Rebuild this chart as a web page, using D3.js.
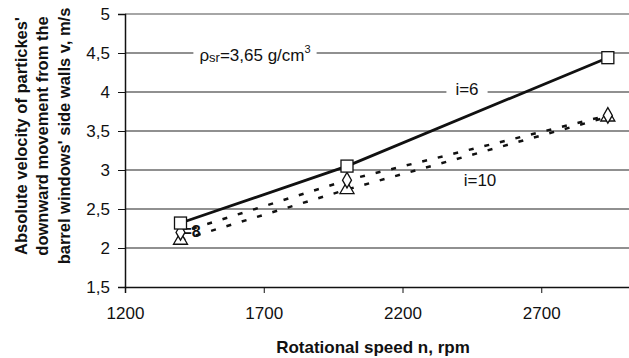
<!DOCTYPE html>
<html><head><meta charset="utf-8">
<script src="https://cdn.jsdelivr.net/npm/d3@7"></script>
<style>body{margin:0;background:#fff}svg{display:block}text{font-family:"Liberation Sans",Arial,sans-serif}</style>
</head><body><svg id="c" width="629" height="358"></svg>
<script>
const rpm = [1400, 2000, 2940];
const v_i6 = [2.32, 3.05, 4.44];
const v_i8 = [2.2, 2.87, 3.7];
const v_i10 = [2.1, 2.75, 3.68];
const xTicks = [1200, 1700, 2200, 2700];
const yTicks = [1.5, 2, 2.5, 3, 3.5, 4, 4.5, 5];
const yTickLabels = ["1,5","2","2,5","3","3,5","4","4,5","5"];
const seriesLabels = ["i=6", "i=8", "i=10"];
const densityLabel = "3,65 g/cm";
const xTitle = "Rotational speed n, rpm";
const yTitle = ["Absolute velocity of partickes'", "downward movement from the", "barrel windows' side walls v, m/s"];

const svg = d3.select("#c");
const x = d3.scaleLinear().domain([1200, 3200]).range([125, 680]);
const y = d3.scaleLinear().domain([1.5, 5]).range([287, 14]);
const FF = '"Liberation Sans",Arial,sans-serif';

// gridlines
svg.append("g").selectAll("line").data(yTicks.slice(1)).join("line")
  .attr("x1", 125).attr("x2", 629).attr("y1", d => y(d)).attr("y2", d => y(d))
  .attr("stroke", d => d === 5 ? "#888" : "#222").attr("stroke-width", d => d === 5 ? 1.5 : 1.2);

// axes
const yAxis = d3.axisLeft(y).tickValues(yTicks).tickFormat((d,i) => yTickLabels[i]).tickSize(7).tickPadding(8);
const gy = svg.append("g").attr("transform", "translate(125,0)").call(yAxis);
gy.select(".domain").attr("stroke", "#111").attr("stroke-width", 1.5);
gy.selectAll(".tick line").attr("stroke", "#111");
gy.selectAll("text").attr("font-size", 17).attr("fill", "#111").style("font-family", FF);

const xAxis = d3.axisBottom(x).tickValues(xTicks).tickFormat(d3.format("d")).tickSize(6).tickPadding(14);
const gx = svg.append("g").attr("transform", "translate(0,287)").call(xAxis);
gx.select(".domain").attr("stroke", "#111").attr("stroke-width", 1.5);
gx.selectAll(".tick line").attr("stroke", "#111");
gx.selectAll("text").attr("font-size", 17).attr("fill", "#111").style("font-family", FF);

// text labels with white background (break gridlines)
function boxLabel(cx, cy, build, padX) {
  const g = svg.append("g");
  const rect = g.append("rect").attr("fill", "#fff");
  const t = g.append("text").attr("x", cx).attr("y", cy).attr("text-anchor", "middle")
    .attr("dominant-baseline", "middle").attr("font-size", 17).attr("fill", "#111");
  build(t);
  const b = t.node().getBBox();
  rect.attr("x", b.x - padX).attr("y", b.y).attr("width", b.width + 2 * padX).attr("height", b.height);
}
boxLabel(255, 57, t => {
  t.append("tspan").text("ρ");
  t.append("tspan").attr("font-size", 13).attr("dy", 2).text("sr");
  t.append("tspan").attr("dy", -2).text("=" + densityLabel);
  t.append("tspan").attr("font-size", 11).attr("dy", -7).text("3");
}, 6);
boxLabel(467, 91, t => t.text(seriesLabels[0]), 9);
boxLabel(480, 182, t => t.text(seriesLabels[2]), 8);

// i=8 label near first points
svg.append("text").attr("x", 178).attr("y", 237).attr("font-size", 16).attr("font-weight", "bold")
  .attr("fill", "#111").text(seriesLabels[1]);

// lines
const line = d3.line().x(d => x(d[0])).y(d => y(d[1]));
const mk = v => rpm.map((r, i) => [r, v[i]]);
svg.append("path").attr("d", line(mk(v_i10))).attr("fill", "none").attr("stroke", "#111")
  .attr("stroke-width", 2.5).attr("stroke-dasharray", "5,11");
svg.append("path").attr("d", line(mk(v_i8))).attr("fill", "none").attr("stroke", "#111")
  .attr("stroke-width", 2.5).attr("stroke-dasharray", "5,11").attr("stroke-dashoffset", 4);
svg.append("path").attr("d", line(mk(v_i6))).attr("fill", "none").attr("stroke", "#111")
  .attr("stroke-width", 2.8);

// markers
const tri = d3.symbol().type(d3.symbolTriangle).size(85);
const dia = d3.symbol().type(d3.symbolDiamond).size(70);
svg.append("g").selectAll("path").data(mk(v_i10)).join("path")
  .attr("d", tri).attr("transform", d => `translate(${x(d[0])},${y(d[1])})`)
  .attr("fill", "#fff").attr("stroke", "#111").attr("stroke-width", 1.3);
svg.append("g").selectAll("path").data(mk(v_i8)).join("path")
  .attr("d", dia).attr("transform", d => `translate(${x(d[0])},${y(d[1])})`)
  .attr("fill", "#fff").attr("stroke", "#111").attr("stroke-width", 1.3);
svg.append("g").selectAll("rect").data(mk(v_i6)).join("rect")
  .attr("x", d => x(d[0]) - 6).attr("y", d => y(d[1]) - 6).attr("width", 12).attr("height", 12)
  .attr("fill", "#fff").attr("stroke", "#111").attr("stroke-width", 1.3);

// axis titles
svg.append("text").attr("x", 373).attr("y", 353).attr("text-anchor", "middle")
  .attr("font-size", 17).attr("font-weight", "bold").attr("fill", "#111").text(xTitle);
const yt = svg.append("text").attr("transform", "translate(42,136) rotate(-90)").attr("text-anchor", "middle")
  .attr("font-size", 16.5).attr("font-weight", "bold").attr("fill", "#111");
yTitle.forEach((s, i) => yt.append("tspan").attr("x", 0).attr("y", (i - 1) * 21.5 + 6).text(s));
</script></body></html>
